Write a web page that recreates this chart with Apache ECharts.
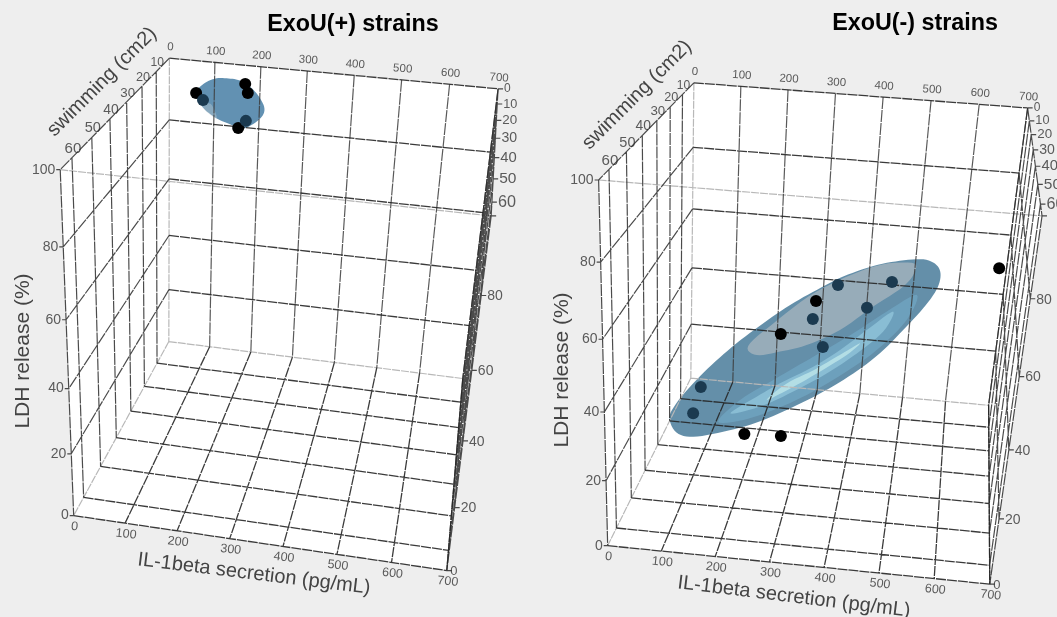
<!DOCTYPE html>
<html><head><meta charset="utf-8">
<style>html,body{margin:0;padding:0;background:#eeeeee}#c{width:1057px;height:617px;filter:blur(0.7px)}</style>
<script src="https://cdn.jsdelivr.net/npm/echarts@6/dist/echarts.min.js"></script>
</head><body><div id="c"></div>
<script>
// Axis ticks
const IL_TICKS=[0,100,200,300,400,500,600,700];
const SWIM_TICKS=[0,10,20,30,40,50,60];
const LDH_TICKS=[0,20,40,60,80,100];
const IL_MAX=700,SWIM_MAX=65.5,LDH_MAX=100;
// Strains: [IL-1beta, swimming, LDH release]
const EXOU_POS_OPEN=[[75,6,92.6],[184,8,97.9],[190,8,95.2],[176,10,85]];
const EXOU_POS_SHADED=[[100,10,92.6],[196,12,88.5]];
const EXOU_NEG_OPEN=[[177,26,3],[254,25,2.7],[251,30,40.5],[320,32,53],[660,40,72]];
const EXOU_NEG_SHADED=[[75,30,12],[86,28,19.4],[342,35,41.2],[318,34,48.8],[359,30,57.1],[424,38,56.2],[466,36,63.1]];
// Confidence ellipsoid outlines: [IL-1beta, LDH release] at a fixed swimming level
const POS_ELLIPSOID_SWIM=10;
const POS_ELLIPSOID=[[85,95],[104,98],[128,99.7],[153,100],[177,99.7],[202,97.7],[220,94.9],[230,91.9],[225,89.2],[204,86.3],[183,84.8],[162,85.7],[130,87.3],[105,89.6],[92,92]];
const POS_SHADE=[[90,92.5],[104,91.9],[119,91.3],[130,87.3],[108,89.1]];
const NEG_ELLIPSOID_SWIM=30;
const NEG_ELLIPSOID=[[25,9.5],[37,14.2],[68,20.8],[112,28.6],[162,36.3],[215,43.4],[267,49.8],[318,55.1],[368,59.8],[425,63.7],[475,65.9],[520,66.9],[546,65.6],[556,62.7],[551,58.2],[529,52.3],[494,45.1],[452,37.2],[402,30],[344,23.2],[277,16.6],[209,10.8],[139,6.6],[76,3.9],[40,4.8]];
const NEG_LENS=[[186,35.8],[235,43.6],[318,54.6],[425,63.5],[498,65.6],[506,63.1],[486,58.3],[431,51.5],[369,43.4],[304,37.7],[251,34.9],[204,33.1]];
const NEG_BAND_A=[[128,9.9],[173,17.9],[240,25.5],[319,34.2],[396,42.7],[458,50.3],[514,56.2],[499,48.3],[445,38.1],[382,29.7],[310,21.6],[243,15.6],[181,11.3]];
const NEG_BAND_B=[[153,13.1],[207,19.5],[254,24.6],[320,31],[372,37.1],[422,44.1],[471,50.5],[455,44.1],[406,36.5],[348,29.2],[282,22.3],[215,16.3]];
const NEG_BAND_C=[[228,18.7],[268,24.8],[321,29.9],[372,35.5],[411,39.8],[386,35.7],[334,29.6],[282,23.9]];
// Camera calibration for each 3D box: [il, swim, ldh, screenX, screenY]
const CORNERS_L=[[0,0,100,170,58],[700,0,100,497,88],[0,SWIM_MAX,100,60,170],[700,SWIM_MAX,100,492,217],[0,SWIM_MAX,0,73,515],[700,SWIM_MAX,0,447,570],[0,0,0,169,342],[700,0,0,463,379]];
const CORNERS_R=[[0,0,100,695,82],[700,0,100,1027,108],[0,SWIM_MAX,100,598,178],[700,SWIM_MAX,100,1042,219],[0,SWIM_MAX,0,608,542],[700,SWIM_MAX,0,990,587],[0,0,0,690,383],[700,0,0,989,401]];
function solveCam(cs){
  const A=[],b=[];
  cs.forEach(([x,s,z,u,v])=>{const X=x/IL_MAX,Y=s/SWIM_MAX,Z=z/LDH_MAX,U=u/1000,W=v/1000;
    A.push([X,Y,Z,1,0,0,0,0,-U*X,-U*Y,-U*Z]);b.push(U);
    A.push([0,0,0,0,X,Y,Z,1,-W*X,-W*Y,-W*Z]);b.push(W);});
  const n=11,M=[];
  for(let i=0;i<n;i++){M.push([]);for(let j=0;j<n;j++){let t=0;A.forEach(r=>t+=r[i]*r[j]);M[i].push(t);}
    let t=0;A.forEach((r,k)=>t+=r[i]*b[k]);M[i].push(t);}
  for(let i=0;i<n;i++){let p=i;for(let k=i;k<n;k++)if(Math.abs(M[k][i])>Math.abs(M[p][i]))p=k;
    [M[i],M[p]]=[M[p],M[i]];
    for(let k=0;k<n;k++){if(k===i)continue;const f=M[k][i]/M[i][i];for(let j=i;j<=n;j++)M[k][j]-=f*M[i][j];}}
  return M.map((r,i)=>r[n]/r[i]);
}
function projector(c){return (x,s,z)=>{const X=x/IL_MAX,Y=s/SWIM_MAX,Z=z/LDH_MAX,w=c[8]*X+c[9]*Y+c[10]*Z+1;
  return [1000*(c[0]*X+c[1]*Y+c[2]*Z+c[3])/w,1000*(c[4]*X+c[5]*Y+c[6]*Z+c[7])/w];};}
// closed Catmull-Rom smoothing of a projected outline
function smooth(p){const o=[],n=p.length;for(let i=0;i<n;i++){const a=p[(i+n-1)%n],b=p[i],c=p[(i+1)%n],d=p[(i+2)%n];
  for(let k=0;k<6;k++){const t=k/6,t2=t*t,t3=t2*t;
    o.push([0,1].map(j=>0.5*(2*b[j]+(c[j]-a[j])*t+(2*a[j]-5*b[j]+4*c[j]-d[j])*t2+(3*b[j]-a[j]-3*c[j]+d[j])*t3)));}}return o;}
const series=[];
function flat(pts,fill,op){series.push({type:'custom',coordinateSystem:'cartesian2d',clip:false,silent:true,data:[[0,0]],
  renderItem:(p,api)=>({type:'polygon',shape:{points:pts.map(q=>api.coord(q))},style:{fill:fill,opacity:op===undefined?1:op}})});}
function lines(segs,color,w,op,dash){const d=[];segs.forEach(s=>{s.forEach(q=>d.push(q));d.push([null,null]);});
  series.push({type:'line',data:d,showSymbol:false,silent:true,connectNulls:false,lineStyle:{color:color,width:w,opacity:op,type:dash||'solid'},itemStyle:{opacity:0}});}
function texts(items){series.push({type:'custom',coordinateSystem:'cartesian2d',clip:false,silent:true,
  data:items.map(t=>[t.p[0],t.p[1]]),
  renderItem:(p,api)=>{const t=items[p.dataIndex],q=api.coord([t.p[0],t.p[1]]);
    return {type:'text',x:q[0],y:q[1],rotation:(t.r||0)*Math.PI/180,style:{text:t.t,fontFamily:'Liberation Sans',fontSize:t.f,fontWeight:t.b?'bold':'normal',fill:t.c||'#5a5a5a',align:t.a||'center',verticalAlign:'middle'}};}});}
function panel(pr,cfg){
  const S=SWIM_MAX;
  flat([pr(0,0,100),pr(700,0,100),pr(700,S,100),pr(700,S,0),pr(0,S,0),pr(0,S,100)],'#fff');
  const back=[],floor=[],walls=[],faint=[];
  IL_TICKS.forEach(x=>{if(x>0)back.push([pr(x,0,100),pr(x,0,0)]);if(x>0)floor.push([pr(x,0,0),pr(x,S,0)]);});
  LDH_TICKS.forEach(z=>{if(z>0){floor.push([pr(0,0,z),pr(700,0,z)]);walls.push([pr(0,0,z),pr(0,S,z)]);}walls.push([pr(700,0,z),pr(700,S,z)]);});
  SWIM_TICKS.forEach(s=>{if(s>0){floor.push([pr(0,s,0),pr(700,s,0)]);walls.push([pr(0,s,100),pr(0,s,0)]);}walls.push([pr(700,s,100),pr(700,s,0)]);});
  floor.push([pr(0,S,0),pr(700,S,0)]);walls.push([pr(0,S,100),pr(0,S,0)],[pr(700,S,100),pr(700,S,0)]);
  faint.push([pr(0,S,100),pr(700,S,100)],[pr(0,0,100),pr(0,0,0)],[pr(0,0,0),pr(700,0,0)],[pr(0,0,0),pr(0,S,0)]);
  LDH_TICKS.forEach(z=>{const a=pr(0,S,z),b=pr(700,S,z);walls.push([a,[a[0]-4,a[1]]]);walls.push([b,[b[0]+5,b[1]]]);});
  SWIM_TICKS.forEach(s=>{const b=pr(700,s,100);walls.push([b,[b[0]+5,b[1]]]);});
  lines(faint,'#b8b8b8',1.2,1,[8,1]);
  lines(back,'#3c3c3c',1.2,0.85,[12,1]);
  lines(walls,'#2c2c2c',1.2,0.85,[12,1]);
  lines(floor,'#262626',1.3,0.9,[10,1]);
  cfg.polys.forEach(a=>flat(smooth(a[0].map(q=>pr(q[0],cfg.swim,q[1]))),a[1],a[2]));
  [[cfg.open,'#000'],[cfg.shaded,'#1b3a50']].forEach(([d,col])=>series.push({type:'scatter',data:d.map(q=>pr(q[0],q[1],q[2])),symbolSize:12,silent:true,itemStyle:{color:col,opacity:1},z:5}));
  const L=[];
  IL_TICKS.forEach(x=>{const a=pr(x,0,100),b=pr(x,S,0);
    L.push({t:''+x,p:[a[0]+1,a[1]-11],f:11.5,r:-4});L.push({t:''+x,p:[b[0]+1,b[1]+11],f:12.5,r:-6});});
  SWIM_TICKS.forEach((s,i)=>{const a=pr(0,s,100),b=pr(700,s,100);
    if(s>0)L.push({t:''+s,p:[a[0]+1,a[1]-9],f:11.5+i*0.6});
    L.push({t:''+s,p:[b[0]+6,b[1]],f:12+i*0.7,a:'left'});});
  LDH_TICKS.forEach(z=>{const a=pr(0,S,z),b=pr(700,S,z);
    L.push({t:''+z,p:[a[0]-5,a[1]],f:14,a:'right'});
    if(z>0&&z<100)L.push({t:''+z,p:[b[0]+6,b[1]+1],f:14,a:'left'});});
  L.push({t:'0',p:[pr(700,S,0)[0]+7,pr(700,S,0)[1]+1],f:13});
  cfg.titles.forEach(t=>L.push(t));
  texts(L);
}
panel(projector(solveCam(CORNERS_L)),{swim:POS_ELLIPSOID_SWIM,open:EXOU_POS_OPEN,shaded:EXOU_POS_SHADED,
 polys:[[POS_ELLIPSOID,'#3b759f',0.8],[POS_SHADE,'#c4ccd2',0.4]],
 titles:[{t:'ExoU(+) strains',p:[353,25],f:23.3,b:1,c:'#000'},{t:'LDH release (%)',p:[23,351],f:21,r:90,c:'#444'},{t:'swimming (cm2)',p:[102,82],f:20,r:45,c:'#444'},{t:'IL-1beta secretion (pg/mL)',p:[254,574],f:20,r:-7,c:'#444'}]});
panel(projector(solveCam(CORNERS_R)),{swim:NEG_ELLIPSOID_SWIM,open:EXOU_NEG_OPEN,shaded:EXOU_NEG_SHADED,
 polys:[[NEG_ELLIPSOID,'#3d7393',0.8],[NEG_BAND_A,'#6fa3bf',0.85],[NEG_BAND_B,'#8cc0d6',0.9],[NEG_BAND_C,'#b5dfe6',0.95],[NEG_LENS,'#b9c0c4',0.6]],
 titles:[{t:'ExoU(-) strains',p:[915,24],f:23.3,b:1,c:'#000'},{t:'LDH release (%)',p:[562,370],f:21,r:90,c:'#444'},{t:'swimming (cm2)',p:[637,95],f:20,r:45,c:'#444'},{t:'IL-1beta secretion (pg/mL)',p:[794,597],f:20,r:-7,c:'#444'}]});
const chart=echarts.init(document.getElementById('c'));
chart.setOption({animation:false,backgroundColor:'#eeeeee',
 grid:{left:0,right:0,top:0,bottom:0},
 xAxis:{type:'value',min:0,max:1057,show:false},
 yAxis:{type:'value',min:0,max:617,inverse:true,show:false},
 series:series});
</script></body></html>
